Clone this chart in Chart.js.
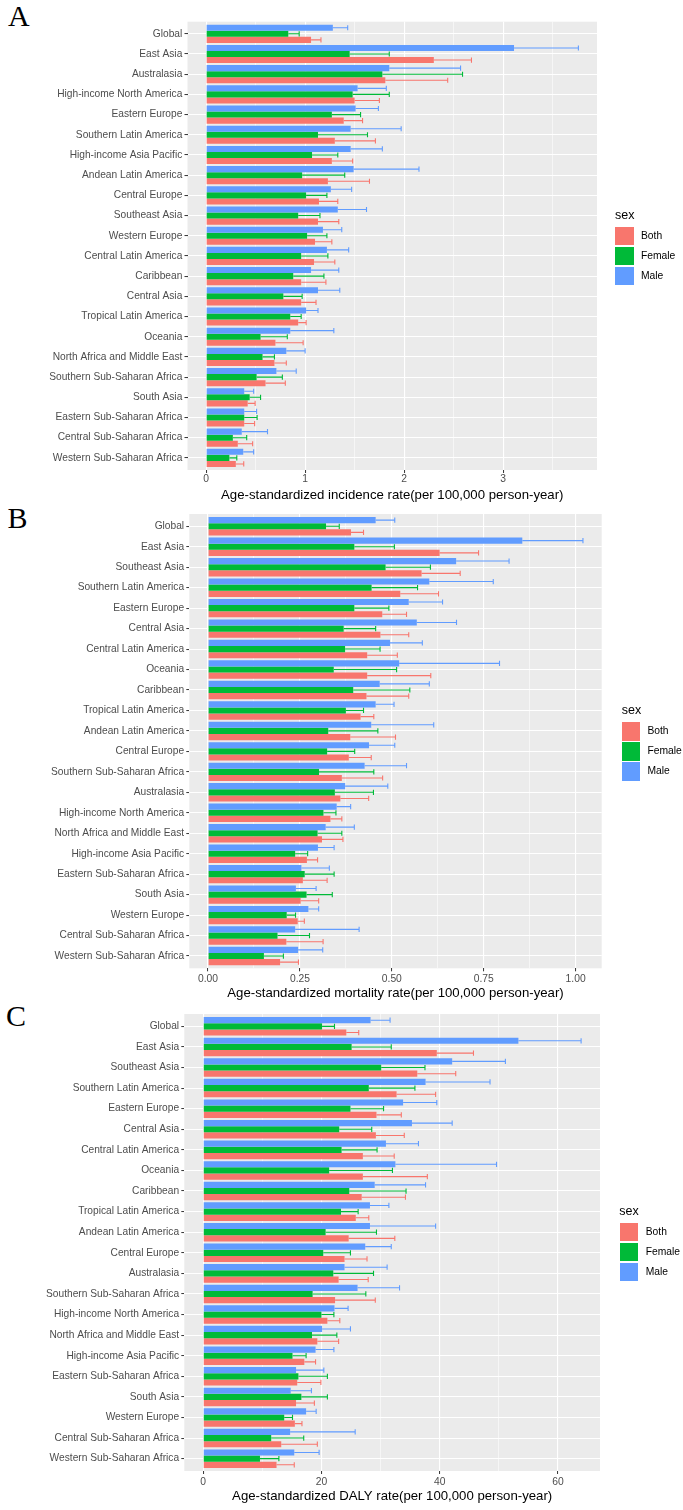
<!DOCTYPE html>
<html><head><meta charset="utf-8">
<script src="https://cdn.jsdelivr.net/npm/chart.js@4.4.0/dist/chart.umd.min.js"></script>
<style>
html,body{margin:0;padding:0;background:#fff;}
body{width:683px;height:1510px;position:relative;overflow:hidden;font-family:"Liberation Sans",Arial,sans-serif;}
canvas{position:absolute;left:0;}
.letter{position:absolute;font-family:"Liberation Serif","Times New Roman",serif;font-size:30px;line-height:30px;color:#000;}
.lg-title{position:absolute;font-size:12.5px;color:#000;line-height:14px;white-space:nowrap;}
.sw{position:absolute;width:18.3px;height:18.3px;}
.lg-lab{position:absolute;font-size:10.3px;color:#000;line-height:12px;white-space:nowrap;}
</style></head><body>
<div class="letter" style="left:8px;top:1px">A</div>
<div class="letter" style="left:7.5px;top:503px">B</div>
<div class="letter" style="left:6px;top:1001px">C</div>
<canvas id="cA" width="683" height="505" style="top:0px"></canvas>
<canvas id="cB" width="683" height="505" style="top:500px"></canvas>
<canvas id="cC" width="683" height="505" style="top:1005px"></canvas>
<div id="legends"></div>
<script>
// ---------- shared ----------
const sexOrder = ['Male', 'Female', 'Both'];          // bar order top -> bottom within a region
const legendOrder = ['Both', 'Female', 'Male'];
const sexColors = { Both: '#F8766D', Female: '#00BA38', Male: '#619CFF' };

// ---------- A: incidence ----------
const incCategories = ['Global','East Asia','Australasia','High-income North America','Eastern Europe','Southern Latin America','High-income Asia Pacific','Andean Latin America','Central Europe','Southeast Asia','Western Europe','Central Latin America','Caribbean','Central Asia','Tropical Latin America','Oceania','North Africa and Middle East','Southern Sub-Saharan Africa','South Asia','Eastern Sub-Saharan Africa','Central Sub-Saharan Africa','Western Sub-Saharan Africa'];
const incMale        = [1.28,3.11,1.85,1.53,1.51,1.46,1.46,1.49,1.26,1.33,1.18,1.22,1.06,1.13,1.01,0.85,0.81,0.71,0.385,0.385,0.36,0.375];
const incMaleUpper   = [1.43,3.76,2.57,1.82,1.74,1.97,1.78,2.15,1.47,1.62,1.37,1.44,1.34,1.35,1.13,1.29,1.00,0.91,0.48,0.51,0.62,0.48];
const incFemale      = [0.83,1.45,1.78,1.48,1.27,1.13,1.07,0.97,1.01,0.93,1.02,0.96,0.88,0.78,0.85,0.55,0.57,0.51,0.44,0.385,0.27,0.235];
const incFemaleUpper = [0.94,1.85,2.59,1.85,1.56,1.63,1.33,1.40,1.22,1.15,1.22,1.23,1.19,0.97,0.96,0.82,0.69,0.77,0.55,0.515,0.41,0.31];
const incBoth        = [1.06,2.30,1.81,1.50,1.39,1.30,1.27,1.23,1.14,1.13,1.10,1.09,0.96,0.96,0.93,0.70,0.69,0.60,0.42,0.385,0.32,0.30];
const incBothUpper   = [1.16,2.68,2.44,1.75,1.58,1.71,1.48,1.65,1.33,1.34,1.27,1.30,1.21,1.11,1.01,0.98,0.81,0.80,0.495,0.49,0.47,0.38];
const incTicks = [0, 1, 2, 3];
const incTickLabels = ['0', '1', '2', '3'];
const incMinorTicks = [0.5, 1.5, 2.5, 3.5];

// ---------- B: mortality ----------
const morCategories = ['Global','East Asia','Southeast Asia','Southern Latin America','Eastern Europe','Central Asia','Central Latin America','Oceania','Caribbean','Tropical Latin America','Andean Latin America','Central Europe','Southern Sub-Saharan Africa','Australasia','High-income North America','North Africa and Middle East','High-income Asia Pacific','Eastern Sub-Saharan Africa','South Asia','Western Europe','Central Sub-Saharan Africa','Western Sub-Saharan Africa'];
const morMale        = [0.456,0.855,0.675,0.602,0.546,0.568,0.495,0.520,0.467,0.456,0.444,0.438,0.426,0.373,0.350,0.320,0.299,0.254,0.239,0.273,0.237,0.245];
const morMaleUpper   = [0.508,1.020,0.819,0.776,0.638,0.676,0.583,0.793,0.602,0.506,0.614,0.508,0.540,0.489,0.388,0.398,0.343,0.330,0.294,0.301,0.411,0.312];
const morFemale      = [0.321,0.398,0.483,0.445,0.398,0.369,0.373,0.342,0.395,0.375,0.327,0.324,0.302,0.345,0.314,0.298,0.237,0.263,0.268,0.214,0.189,0.152];
const morFemaleUpper = [0.357,0.507,0.605,0.570,0.492,0.456,0.468,0.513,0.549,0.423,0.462,0.399,0.451,0.450,0.348,0.364,0.271,0.343,0.338,0.238,0.276,0.205];
const morBoth        = [0.389,0.630,0.581,0.523,0.474,0.469,0.433,0.433,0.431,0.415,0.387,0.383,0.364,0.360,0.333,0.310,0.269,0.258,0.252,0.244,0.213,0.196];
const morBothUpper   = [0.423,0.736,0.686,0.627,0.540,0.546,0.515,0.606,0.546,0.451,0.510,0.444,0.475,0.437,0.364,0.367,0.298,0.324,0.301,0.262,0.313,0.246];
const morTicks = [0, 0.25, 0.5, 0.75, 1];
const morTickLabels = ['0.00', '0.25', '0.50', '0.75', '1.00'];
const morMinorTicks = [0.125, 0.375, 0.625, 0.875];

// ---------- C: DALY ----------
const dalyCategories = ['Global','East Asia','Southeast Asia','Southern Latin America','Eastern Europe','Central Asia','Central Latin America','Oceania','Caribbean','Tropical Latin America','Andean Latin America','Central Europe','Australasia','Southern Sub-Saharan Africa','High-income North America','North Africa and Middle East','High-income Asia Pacific','Eastern Sub-Saharan Africa','South Asia','Western Europe','Central Sub-Saharan Africa','Western Sub-Saharan Africa'];
const dalyMale        = [28.3,53.3,42.1,37.6,33.8,35.3,30.9,32.5,29.0,28.2,28.2,27.4,23.9,26.1,22.2,20.1,19.0,15.7,14.8,17.4,14.7,15.4];
const dalyMaleUpper   = [31.6,63.9,51.1,48.5,39.5,42.1,36.4,49.6,37.6,31.4,39.3,31.8,31.1,33.2,24.5,24.9,22.1,20.4,18.3,19.1,25.7,19.6];
const dalyFemale      = [20.1,25.1,30.1,28.0,24.9,23.0,23.4,21.3,24.7,23.3,20.7,20.3,22.0,18.5,20.0,18.4,15.1,16.1,16.6,13.7,11.5,9.6];
const dalyFemaleUpper = [22.2,31.8,37.5,35.8,30.5,28.5,29.4,32.0,34.3,26.2,29.3,24.9,28.8,27.5,22.1,22.6,17.4,21.0,21.0,15.1,17.0,12.8];
const dalyBoth        = [24.2,39.5,36.2,32.7,29.3,29.2,27.0,27.0,26.8,25.8,24.6,23.9,22.9,22.3,21.0,19.3,17.1,15.9,15.7,15.5,13.2,12.4];
const dalyBothUpper   = [26.3,45.7,42.7,39.3,33.5,34.0,32.3,37.9,34.2,28.0,32.4,27.7,27.9,29.1,23.1,22.9,19.0,19.9,18.8,16.7,19.3,15.4];
const dalyTicks = [0, 20, 40, 60];
const dalyTickLabels = ['0', '20', '40', '60'];
const dalyMinorTicks = [10, 30, 50];

const FONT = "'Liberation Sans', Arial, sans-serif";

const panelBg = {
  id: 'panelBg',
  beforeDraw(chart) {
    const { ctx, chartArea: a } = chart;
    ctx.save();
    ctx.fillStyle = '#EBEBEB';
    ctx.fillRect(a.left, a.top, a.right - a.left, a.bottom - a.top);
    ctx.restore();
  }
};

const errorBars = {
  id: 'errorBars',
  afterDatasetsDraw(chart) {
    const ctx = chart.ctx;
    const xs = chart.scales.x;
    chart.data.datasets.forEach((ds, d) => {
      const meta = chart.getDatasetMeta(d);
      meta.data.forEach((el, i) => {
        const p = el.getProps(['x', 'y', 'height'], true);
        const xu = xs.getPixelForValue(ds.upper[i]);
        const h = Math.abs(p.height) * 0.85 / 2;
        ctx.save();
        ctx.strokeStyle = ds.backgroundColor;
        ctx.lineWidth = 1.1;
        ctx.beginPath();
        ctx.moveTo(p.x, p.y); ctx.lineTo(xu, p.y);
        ctx.moveTo(xu, p.y - h); ctx.lineTo(xu, p.y + h);
        ctx.stroke();
        ctx.restore();
      });
    });
  }
};

function makePanel(id, cfg) {
  const canvasH = 505;
  const cats = cfg.categories;
  const series = { Male: [cfg.male, cfg.maleUp], Female: [cfg.female, cfg.femaleUp], Both: [cfg.both, cfg.bothUp] };
  const maxUp = Math.max(...cfg.maleUp, ...cfg.femaleUp, ...cfg.bothUp);
  const lo = -0.05 * maxUp, hi = 1.05 * maxUp;
  const allTicks = cfg.ticks.concat(cfg.minor).sort((a, b) => a - b);
  const isMajor = v => cfg.ticks.indexOf(v) >= 0;
  const g = cfg.geom;
  new Chart(document.getElementById(id), {
    type: 'bar',
    data: {
      datasets: sexOrder.map(s => ({
        label: s,
        data: series[s][0].map((v, i) => ({ x: v, y: i })),
        upper: series[s][1],
        backgroundColor: sexColors[s],
        borderWidth: 0,
        categoryPercentage: 0.9,
        barPercentage: 1.0
      }))
    },
    options: {
      indexAxis: 'y',
      responsive: false,
      animation: false,
      layout: { padding: { left: 0, right: 683 - g.right, top: g.top, bottom: 0 } },
      plugins: { legend: { display: false }, tooltip: { enabled: false } },
      scales: {
        y: {
          type: 'linear', reverse: true, offset: false, min: -0.6, max: cats.length - 1 + 0.6,
          afterBuildTicks: s => { s.ticks = cats.map((c, i) => ({ value: i })); },
          afterFit: s => { s.width = g.left; },
          grid: { offset: false, color: '#FFFFFF', lineWidth: 1.1, drawTicks: true, tickLength: 3, tickColor: '#333333', tickWidth: 1 },
          border: { display: false },
          ticks: { autoSkip: false, padding: 2.2, color: '#4D4D4D', font: { family: FONT, size: 10.2 },
                   callback: v => cats[Math.round(v)] }
        },
        x: {
          type: 'linear', position: 'bottom', offset: false, min: lo, max: hi,
          afterBuildTicks: s => { s.ticks = allTicks.map(v => ({ value: v })); },
          afterFit: s => { s.height = canvasH - g.bottom; },
          grid: {
            offset: false,
            color: '#FFFFFF',
            lineWidth: c => (c.tick && isMajor(c.tick.value)) ? 1.1 : 0.55,
            tickColor: c => (c.tick && isMajor(c.tick.value)) ? '#333333' : 'rgba(0,0,0,0)',
            tickLength: 3, tickWidth: 1
          },
          border: { display: false },
          ticks: { autoSkip: false, maxRotation: 0, padding: g.tickPad, color: '#4D4D4D', font: { family: FONT, size: 10.3 },
                   callback: v => { const k = cfg.ticks.indexOf(v); return k >= 0 ? cfg.tickLabels[k] : ''; } },
          title: { display: true, text: cfg.title, color: '#000000', font: { family: FONT, size: 13.2 },
                   padding: { top: 0, bottom: g.titlePad } }
        }
      }
    },
    plugins: [panelBg, errorBars]
  });
}

makePanel('cA', {
  categories: incCategories, male: incMale, maleUp: incMaleUpper, female: incFemale, femaleUp: incFemaleUpper,
  both: incBoth, bothUp: incBothUpper, ticks: incTicks, tickLabels: incTickLabels, minor: incMinorTicks,
  title: 'Age-standardized incidence rate(per 100,000 person-year)',
  geom: { left: 187.5, right: 597, top: 21.7, bottom: 470, tickPad: 0.2, titlePad: 2.1 }
});
makePanel('cB', {
  categories: morCategories, male: morMale, maleUp: morMaleUpper, female: morFemale, femaleUp: morFemaleUpper,
  both: morBoth, bothUp: morBothUpper, ticks: morTicks, tickLabels: morTickLabels, minor: morMinorTicks,
  title: 'Age-standardized mortality rate(per 100,000 person-year)',
  geom: { left: 189.3, right: 601.7, top: 14, bottom: 468.3, tickPad: 1.8, titlePad: 3.8 }
});
makePanel('cC', {
  categories: dalyCategories, male: dalyMale, maleUp: dalyMaleUpper, female: dalyFemale, femaleUp: dalyFemaleUpper,
  both: dalyBoth, bothUp: dalyBothUpper, ticks: dalyTicks, tickLabels: dalyTickLabels, minor: dalyMinorTicks,
  title: 'Age-standardized DALY rate(per 100,000 person-year)',
  geom: { left: 184.3, right: 600, top: 9, bottom: 466, tickPad: 1.5, titlePad: 5.4 }
});

// ---------- legends (HTML text) ----------
const legendPos = [
  { titleX: 615, titleY: 215, swX: 615.3, swTop: 226.7 },
  { titleX: 621.7, titleY: 710, swX: 621.7, swTop: 722.3 },
  { titleX: 619.3, titleY: 1210.7, swX: 620, swTop: 1222.7 }
];
const lg = document.getElementById('legends');
legendPos.forEach(p => {
  const t = document.createElement('div');
  t.className = 'lg-title'; t.textContent = 'sex';
  t.style.left = p.titleX + 'px'; t.style.top = (p.titleY - 7) + 'px';
  lg.appendChild(t);
  legendOrder.forEach((s, k) => {
    const top = p.swTop + 20 * k;
    const sw = document.createElement('div');
    sw.className = 'sw'; sw.style.background = sexColors[s];
    sw.style.left = p.swX + 'px'; sw.style.top = top + 'px';
    lg.appendChild(sw);
    const l = document.createElement('div');
    l.className = 'lg-lab'; l.textContent = s;
    l.style.left = (p.swX + 25.7) + 'px'; l.style.top = (top + 9.15 - 6) + 'px';
    lg.appendChild(l);
  });
});
</script>
</body></html>
